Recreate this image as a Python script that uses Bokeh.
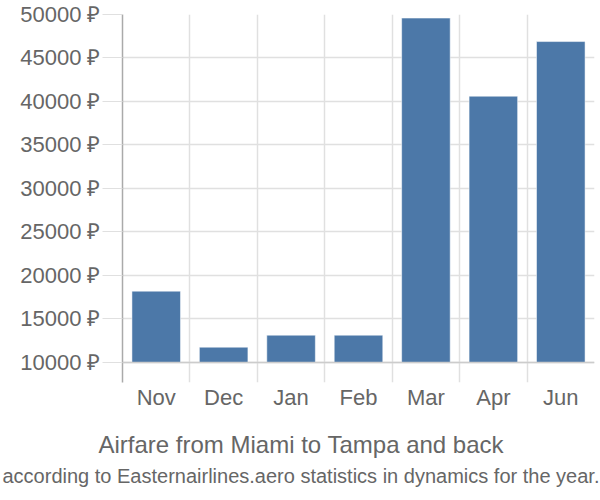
from bokeh.plotting import figure
from bokeh.models import Range1d, FixedTicker, Span, Title
from bokeh.embed import file_html
from bokeh.resources import INLINE

months = ["Nov", "Dec", "Jan", "Feb", "Mar", "Apr", "Jun"]
prices = [18200, 11760, 13140, 13140, 49590, 40610, 46890]
y_ticks = [10000, 15000, 20000, 25000, 30000, 35000, 40000, 45000, 50000]
baseline = 10000
title_text = "Airfare from Miami to Tampa and back"
subtitle_text = "according to Easternairlines.aero statistics in dynamics for the year."

FONT = "Liberation Sans"
TXT = "#666666"
GRID = "#e0e0e0"

p = figure(width=600, height=500, output_backend="svg", toolbar_location=None,
           x_range=Range1d(0, len(months)), y_range=Range1d(7700, 50000),
           min_border_left=122, min_border_top=14, min_border_right=6, min_border_bottom=118)
p.outline_line_color = None

xs = [i + 0.5 for i in range(len(months))]
p.vbar(x=xs, top=prices, bottom=baseline, width=0.72, fill_color="#4c78a8",
       line_color="white", line_alpha=0.5, line_width=1)

p.add_layout(Span(location=baseline, dimension="width", line_color="#cccccc", line_width=1.5))

# y axis
p.yaxis.ticker = FixedTicker(ticks=y_ticks)
p.yaxis.major_label_overrides = {v: f"{v} ₽" for v in y_ticks}
p.yaxis.axis_line_color = "#aaaaaa"
p.yaxis.axis_line_width = 1.5
p.yaxis.major_tick_out = 20
p.yaxis.major_tick_in = 0
p.yaxis.major_tick_line_color = GRID
p.yaxis.minor_tick_line_color = None
p.yaxis.major_label_standoff = 2
p.yaxis.major_label_text_font = FONT
p.yaxis.major_label_text_font_size = "22px"
p.yaxis.major_label_text_color = TXT

# x axis
p.xaxis.ticker = FixedTicker(ticks=xs)
p.xaxis.major_label_overrides = {x: m for x, m in zip(xs, months)}
p.xaxis.axis_line_color = None
p.xaxis.major_tick_line_color = None
p.xaxis.minor_tick_line_color = None
p.xaxis.major_label_standoff = -4
p.xaxis.major_label_text_font = FONT
p.xaxis.major_label_text_font_size = "22px"
p.xaxis.major_label_text_color = TXT

p.xgrid.ticker = FixedTicker(ticks=list(range(len(months) + 1)))
p.xgrid.grid_line_color = GRID
p.xgrid.grid_line_width = 1.5
p.ygrid.grid_line_color = GRID
p.ygrid.grid_line_width = 1.5

t1 = Title(text=title_text, align="left", text_font=FONT, text_font_size="24px",
           text_color=TXT, text_font_style="normal", standoff=32, offset=-24)
t2 = Title(text=subtitle_text, align="left", text_font=FONT, text_font_size="20px",
           text_color=TXT, text_font_style="normal", standoff=-21, offset=-120)
p.add_layout(t1, "below")
p.add_layout(t2, "below")

open("out.html", "w").write(file_html(p, INLINE))
